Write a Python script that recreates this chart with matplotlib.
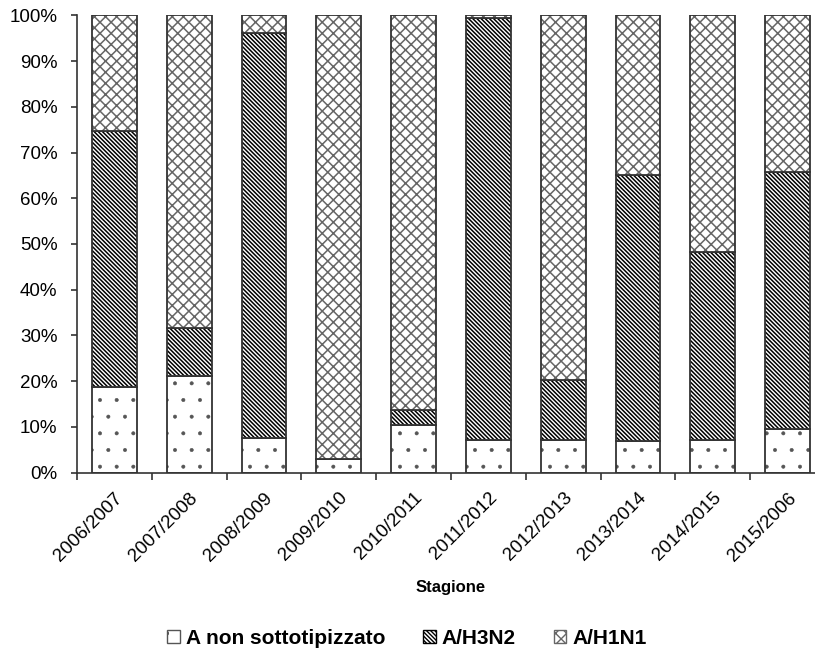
import numpy as np
import matplotlib
matplotlib.use('Agg')
import matplotlib.pyplot as plt
from matplotlib.patches import Patch

plt.rcParams['font.family'] = ['Liberation Sans', 'DejaVu Sans']

# Seasons on the x axis (label of the last one as printed in the source)
seasons = ['2006/2007', '2007/2008', '2008/2009', '2009/2010', '2010/2011',
           '2011/2012', '2012/2013', '2013/2014', '2014/2015', '2015/2006']

# share of each subtype, percent
a_non_sottotipizzato = [18.7, 21.1, 7.6, 3.0, 10.5, 7.2, 7.1, 6.9, 7.1, 9.6]
a_h3n2 = [56.1, 10.6, 88.5, 0.0, 3.1, 92.3, 13.1, 58.2, 41.2, 56.2]
a_h1n1 = [25.2, 68.3, 3.9, 97.0, 86.4, 0.5, 79.8, 34.9, 51.7, 34.2]

series_labels = ['A non sottotipizzato', 'A/H3N2', 'A/H1N1']

fig = plt.figure(figsize=(8.15, 6.54), dpi=100)
ax = fig.add_axes([77 / 815, 1 - 472.7 / 654, 748 / 815, 457.4 / 654])

x = np.arange(len(seasons))
width = 0.6
edge = '#333333'

styles = [
    dict(hatch='.', hatch_lw=0.4, edge='#555555'),
    dict(hatch='\\' * 8, hatch_lw=1.1, edge='#000000'),
    dict(hatch='xxx', hatch_lw=1.1, edge='#666666'),
]

bottom = np.zeros(len(seasons))
handles = []
for vals, st, lab in zip([a_non_sottotipizzato, a_h3n2, a_h1n1], styles, series_labels):
    vals = np.array(vals)
    plt.rcParams['hatch.linewidth'] = st['hatch_lw']
    bars = ax.bar(x, vals, width, bottom=bottom, color='white',
                  hatch=st['hatch'], edgecolor=st['edge'], linewidth=0)
    for b in bars:
        if hasattr(b, 'set_hatch_linewidth'):
            b.set_hatch_linewidth(st['hatch_lw'])
    # outline of each segment in dark gray
    ax.bar(x, vals, width, bottom=bottom, color='none', edgecolor=edge,
           linewidth=1.3)
    bottom += vals
    h = Patch(facecolor='white', edgecolor=st['edge'], hatch=st['hatch'], label=lab)
    if hasattr(h, 'set_hatch_linewidth'):
        h.set_hatch_linewidth(st['hatch_lw'])
    handles.append(h)

ax.set_xlim(-0.5, len(seasons) - 0.5)
ax.set_ylim(0, 100)
ax.set_yticks(np.arange(0, 101, 10))
ax.set_yticklabels([f'{v}%' for v in range(0, 101, 10)], fontsize=13.5)

ax.set_xticks(x)
ax.set_xticklabels(seasons, rotation=45, ha='right', rotation_mode='anchor', fontsize=13.5)
ax.tick_params(axis='x', which='major', length=0, pad=12)
ax.set_xticks(np.arange(-0.5, len(seasons), 1), minor=True)
ax.tick_params(axis='x', which='minor', length=5, width=1.2, color='#333333')
ax.tick_params(axis='y', length=4, width=1.2, color='#333333', pad=10)

for s in ['top', 'right']:
    ax.spines[s].set_visible(False)
for s in ['left', 'bottom']:
    ax.spines[s].set_color('#333333')
    ax.spines[s].set_linewidth(1.2)

ax.set_xlabel('Stagione', fontsize=12, fontweight='bold')
ax.xaxis.set_label_coords((451 - 77) / 748, -(580 - 472.7) / 457.4)

plt.rcParams['hatch.linewidth'] = 1.0
fig.legend(handles=handles, loc='center', bbox_to_anchor=(407 / 815, 1 - 638 / 654),
           ncol=3, frameon=False, prop={'weight': 'bold', 'size': 15},
           handlelength=0.6, handleheight=0.6, handletextpad=0.3, columnspacing=1.8)

fig.savefig('out.png', dpi=100)
